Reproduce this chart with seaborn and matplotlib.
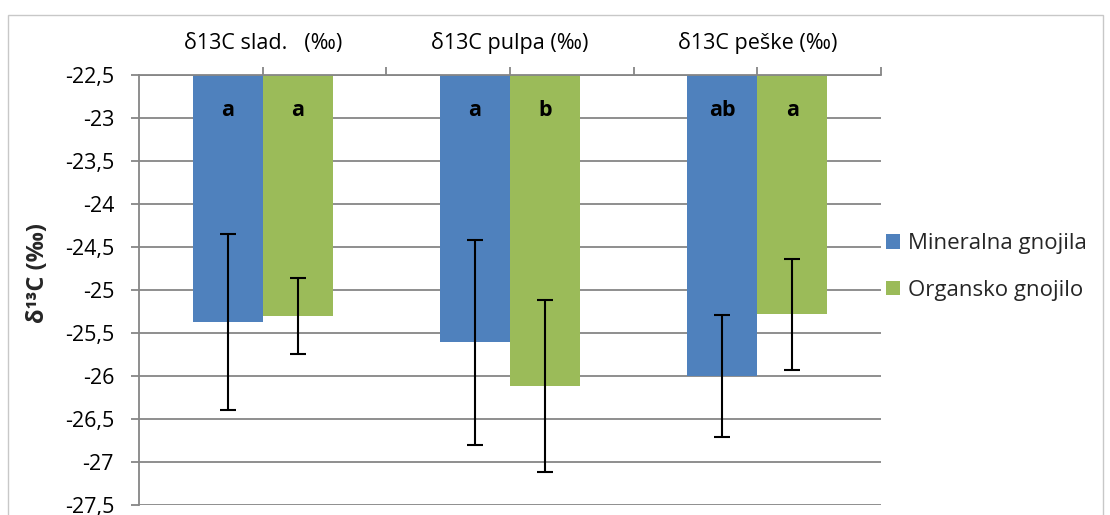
import matplotlib
matplotlib.use("Agg")
import matplotlib.pyplot as plt
import seaborn as sns
import pandas as pd
from matplotlib.patches import Rectangle, Patch

# Isotope composition (δ13C, ‰) per fraction and fertiliser treatment
categories = ["δ13C slad.   (‰)", "δ13C pulpa (‰)", "δ13C peške (‰)"]
treatments = ["Mineralna gnojila", "Organsko gnojilo"]
mineral_mean = [-25.37, -25.61, -26.00]
organic_mean = [-25.30, -26.12, -25.28]
mineral_err = [1.02, 1.19, 0.71]
organic_err = [0.44, 1.00, 0.645]
mineral_letters = ["a", "a", "ab"]
organic_letters = ["a", "b", "a"]
y_ticks = [-22.5, -23, -23.5, -24, -24.5, -25, -25.5, -26, -26.5, -27, -27.5]
y_tick_labels = ["-22,5", "-23", "-23,5", "-24", "-24,5", "-25", "-25,5",
                 "-26", "-26,5", "-27", "-27,5"]
colors = ["#4F81BD", "#9BBB59"]

df = pd.DataFrame({
    "frakcija": categories * 2,
    "tretman": [treatments[0]] * 3 + [treatments[1]] * 3,
    "d13C": mineral_mean + organic_mean,
})
errors = [mineral_err, organic_err]
letters = [mineral_letters, organic_letters]
means = [mineral_mean, organic_mean]

sns.set_theme(style="white")
FONT = ["Open Sans", "DejaVu Sans"]
plt.rcParams["font.family"] = FONT
grid_c = "#868686"

fig = plt.figure(figsize=(11.10, 5.15), dpi=100)
ax = fig.add_axes([139 / 1110, 1 - 505 / 515, (881 - 139) / 1110, (505 - 75) / 515])

sns.barplot(data=df, x="frakcija", y="d13C", hue="tretman", order=categories,
            hue_order=treatments, palette=colors, saturation=1, width=0.565,
            errorbar=None, legend=False, ax=ax, zorder=2)

# Bars hang from the top of the value axis
ax.set_ylim(-27.5, -22.5)
ax.set_xlim(-0.5, 2.5)
ax.set_yticks(y_ticks)
ax.set_yticklabels(y_tick_labels, fontsize=15.5, color="black")

bar_groups = list(ax.containers)
for i, cont in enumerate(bar_groups):
    xs = [p.get_x() + p.get_width() / 2 for p in cont.patches]
    for p in cont.patches:
        p.set_edgecolor("none")
    ax.errorbar(xs, means[i], yerr=errors[i], fmt="none", ecolor="black",
                elinewidth=1.5, capsize=6, capthick=1.5, zorder=4)
    for x, lab in zip(xs, letters[i]):
        ax.text(x, -22.91, lab, ha="center", va="center", fontsize=15.5,
                fontweight="bold", color="black", zorder=5)

ax.yaxis.grid(True, color=grid_c, linewidth=1.3, zorder=0)
ax.set_axisbelow(True)
for side in ["right", "bottom"]:
    ax.spines[side].set_visible(False)
for side in ["top", "left"]:
    ax.spines[side].set_color(grid_c)
    ax.spines[side].set_linewidth(1.3)

ax.xaxis.tick_top()
ax.set_xticks([0, 1, 2])
ax.set_xticklabels(categories, fontsize=15.5, color="black")
ax.set_xticks([0.5, 1.5, 2.5], minor=True)
ax.tick_params(axis="x", which="both", top=True, bottom=False, length=6,
               width=1.3, color=grid_c, direction="out", pad=9)
ax.tick_params(axis="y", left=True, length=6, width=1.3, color=grid_c,
               direction="out", pad=12)
ax.set_xlabel("")
ax.set_ylabel("δ¹³C (‰)", fontsize=17, fontweight="bold")
ax.yaxis.set_label_coords(-0.12, 0.54)

handles = [Patch(facecolor=c, edgecolor="none") for c in colors]
fig.legend(handles, treatments, loc="center left",
           bbox_to_anchor=(866 / 1110, 1 - 267 / 515), frameon=False,
           fontsize=16, handlelength=0.65, handleheight=0.65,
           handletextpad=0.35, labelspacing=1.15)

# Chart frame
fig.patches.append(Rectangle((8 / 1110, -0.1), (1103 - 8) / 1110, 1.1 - 15 / 515,
                             transform=fig.transFigure, fill=False,
                             edgecolor="#c8c8c8", linewidth=1.0))

fig.savefig("out.png", dpi=100)
